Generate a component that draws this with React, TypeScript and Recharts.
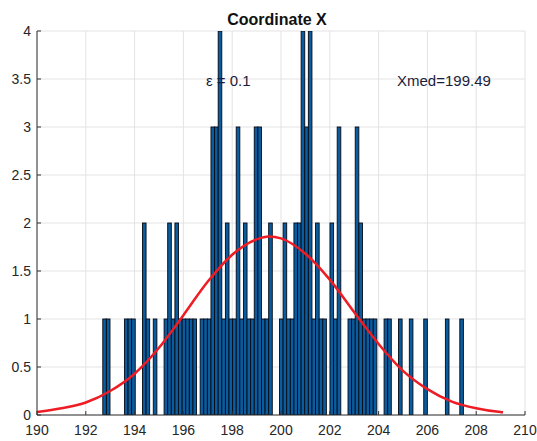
import React from 'react';
import { ComposedChart, Bar, Line, XAxis, YAxis, CartesianGrid } from 'recharts';

// histogram bins (centre of first bin and bin width)
const binStart = 192.77;
const binWidth = 0.1478;
const counts = [
  1, 1, 0, 0, 0, 0, 1, 1, 1, 0,
  0, 2, 1, 0, 1, 0, 0, 1, 2, 1,
  2, 1, 1, 1, 1, 1, 0, 1, 1, 1,
  3, 3, 4, 1, 2, 1, 1, 3, 1, 2,
  1, 1, 3, 3, 1, 1, 2, 0, 0, 1,
  2, 1, 1, 2, 2, 4, 3, 4, 1, 2,
  1, 1, 0, 2, 1, 3, 0, 0, 1, 1,
  3, 2, 1, 1, 1, 1, 0, 0, 1, 1,
  0, 0, 1, 0, 0, 1, 0, 0, 0, 1,
  0, 0, 0, 0, 0, 1, 0, 0, 0, 1,
];

// red fitted curve, read at whole units
const curveX = [190, 191, 192, 193, 194, 195, 196, 197, 198, 199, 199.5, 200, 201, 202, 203, 204, 205, 206, 207, 208, 209, 209.1];
const curveY = [0.03, 0.07, 0.13, 0.25, 0.43, 0.7, 1.04, 1.39, 1.67, 1.83, 1.86, 1.84, 1.68, 1.41, 1.07, 0.74, 0.46, 0.27, 0.14, 0.07, 0.03, 0.028];

const xTicks = [190, 192, 194, 196, 198, 200, 202, 204, 206, 208, 210];
const yTicks = [0, 0.5, 1, 1.5, 2, 2.5, 3, 3.5, 4];

const histData = counts.map((c, i) => ({ x: +(binStart + i * binWidth).toFixed(4), count: c }));
const curveData = curveX.map((x, i) => ({ x, fit: curveY[i] }));

const W = 537;
const H = 441;
const margin = { top: 31, right: 12, bottom: 0, left: 7 };
const yAxisWidth = 30;
const plotWidth = W - margin.left - margin.right - yAxisWidth;
const barPx = (binWidth * plotWidth) / (xTicks[xTicks.length - 1] - xTicks[0]);

const font = '"Liberation Sans", Arial, sans-serif';
const axisColor = '#333';
const tickStyle = { fontSize: 14, fill: '#262626', fontFamily: font };

// bar drawn one bin wide, centred on its value
const HistBar = (props: any) => {
  const { x, y, width, height } = props;
  if (!height || height <= 0) return null;
  const cx = x + width / 2;
  return (
    <rect
      x={cx - barPx / 2}
      y={y}
      width={barPx}
      height={height}
      fill="#0a5c9e"
      stroke="#050a14"
      strokeWidth={0.9}
    />
  );
};

export default function App() {
  return (
    <div style={{ position: 'absolute', left: 0, top: 0, width: W, height: H, background: '#fff' }}>
      <ComposedChart width={W} height={H} data={histData} margin={margin}>
        <CartesianGrid stroke="#e3e3e3" strokeWidth={1} />
        <XAxis
          dataKey="x"
          type="number"
          domain={[190, 210]}
          ticks={xTicks}
          allowDataOverflow
          height={26}
          tickSize={-4}
          tickMargin={14}
          stroke={axisColor}
          tick={tickStyle}
        />
        <XAxis
          xAxisId="top"
          orientation="top"
          dataKey="x"
          type="number"
          domain={[190, 210]}
          ticks={xTicks}
          allowDataOverflow
          height={0}
          tickSize={-4}
          tickFormatter={() => ''}
          stroke={axisColor}
        />
        <YAxis
          type="number"
          domain={[0, 4]}
          ticks={yTicks}
          allowDataOverflow
          width={yAxisWidth}
          tickSize={-4}
          tickMargin={10}
          stroke={axisColor}
          tick={tickStyle}
        />
        <YAxis
          yAxisId="right"
          orientation="right"
          type="number"
          domain={[0, 4]}
          ticks={yTicks}
          width={0}
          tickSize={-4}
          tickFormatter={() => ''}
          stroke={axisColor}
        />
        <Bar dataKey="count" shape={HistBar} isAnimationActive={false} />
        <Line
          data={curveData}
          dataKey="fit"
          type="monotone"
          stroke="#ee1c24"
          strokeWidth={2.5}
          dot={false}
          isAnimationActive={false}
        />
      </ComposedChart>
      <svg width={W} height={H} style={{ position: 'absolute', left: 0, top: 0, pointerEvents: 'none' }}>
        <text x={277} y={25} textAnchor="middle" fontFamily={font} fontSize={16} fontWeight="bold" fill="#111">
          Coordinate X
        </text>
        <text x={206} y={86} fontFamily={font} fontSize={15} fill="#1c1c3c">
          ε = 0.1
        </text>
        <text x={397} y={86} fontFamily={font} fontSize={15} fill="#1c1c3c">
          Xmed=199.49
        </text>
      </svg>
    </div>
  );
}
